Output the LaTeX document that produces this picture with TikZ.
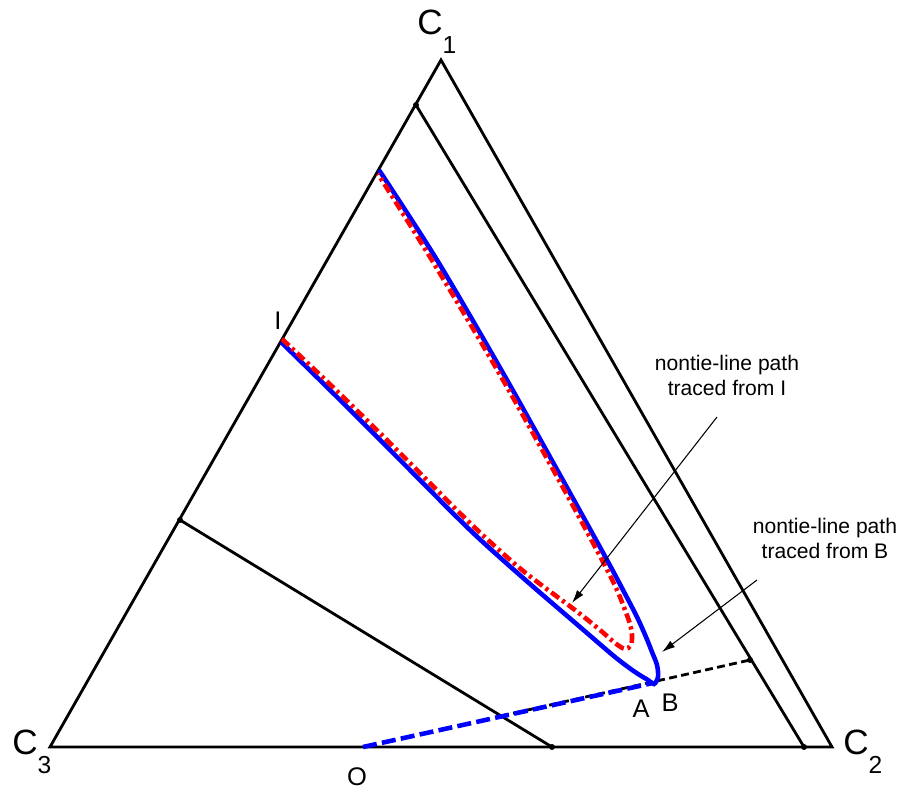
\documentclass[tikz,border=0pt]{standalone}
\usepackage{fontspec}
\setmainfont{Liberation Sans}
\usetikzlibrary{arrows.meta}
\newcommand\vtxlabel[1]{{\fontsize{20}{24}\selectfont C}\raisebox{-10.5pt}{\fontsize{14}{16}\selectfont #1}}

\begin{document}
\begin{tikzpicture}[x=0.02cm,y=-0.02cm,
  side/.style={line width=1.6pt},
  pathB/.style={blue,line width=2.6pt},
  pathI/.style={red,line width=2.6pt,dash pattern=on 5.5pt off 2.2pt on 1.8pt off 2.2pt},
  callout/.style={line width=0.6pt,-{Latex[length=7.5pt,width=4.5pt]}},
  vlab/.style={inner sep=0pt,anchor=base west},
  plab/.style={inner sep=0pt,anchor=base,font=\fontsize{14.5}{16}\selectfont},
  note/.style={inner sep=0pt,anchor=north,align=center,font=\fontsize{12}{14}\selectfont}]
  \useasboundingbox (0,0) rectangle (910,793);
  \coordinate (C1) at (441,60);
  \coordinate (C2) at (832,747);
  \coordinate (C3) at (50,747);
  \coordinate (E1) at (416,105);
  \coordinate (E2) at (804,747);
  \coordinate (F1) at (180,520);
  \coordinate (F2) at (552,747);
  \coordinate (O) at (363,747);
  \coordinate (D) at (750,660);
  \coordinate (B) at (653,683);
  \draw[side] (C1) -- (C2) -- (C3) -- cycle;
  \draw[side] (E1) -- (E2);
  \draw[side] (F1) -- (F2);
  \coordinate (X) at (intersection of O--D and F1--F2);
  \draw[line width=1.6pt,dash pattern=on 4.5pt off 2.5pt] (X) -- (D);
  \draw[blue,line width=2.6pt,dash pattern=on 8pt off 3pt] (O) -- (B);
  \foreach \p in {E1,E2,F1,F2,D}
    \fill (\p) circle (1.7pt);
  \draw[pathB] plot[smooth,tension=0.5] coordinates {(281,342) (337,397) (403,463)
    (470,530) (522,577) (580,627) (615,657) (635,672) (648,680) (654,684)
    (658,677) (657,665) (652,652) (646,637) (637,617) (623,590) (607,560)
    (570,493) (503,373) (437,260) (379,170)};
  \draw[pathI] plot[smooth,tension=0.5] coordinates {(282,339) (338,392) (404,457)
    (471,524) (522,570) (575,610) (600,630) (615,643) (625,649) (631,645)
    (632,635) (630,624) (625,610) (617,590) (602,560) (566,493) (499,373)
    (433,262) (378,174)};
  \node[vlab] (c1lab) at (417,35) {\vtxlabel{1}};
  \node[vlab] (c2lab) at (843,755) {\vtxlabel{2}};
  \node[vlab] (c3lab) at (12,755) {\vtxlabel{3}};
  \node[plab] (ilab) at (278,330) {I};
  \node[plab] (olab) at (357,786) {O};
  \node[plab] (alab) at (641,718) {A};
  \node[plab] (blab) at (670,712) {B};
  \node[note] (noteI) at (727,355) {nontie-line path\\traced from I};
  \node[note] (noteB) at (825,518) {nontie-line path\\traced from B};
  \coordinate (tailI) at (717,417);
  \coordinate (tipI) at (572,603);
  \coordinate (tailB) at (757,580);
  \coordinate (tipB) at (662,652);
  \draw[callout] (tailI) -- (tipI);
  \draw[callout] (tailB) -- (tipB);
\end{tikzpicture}
\end{document}
